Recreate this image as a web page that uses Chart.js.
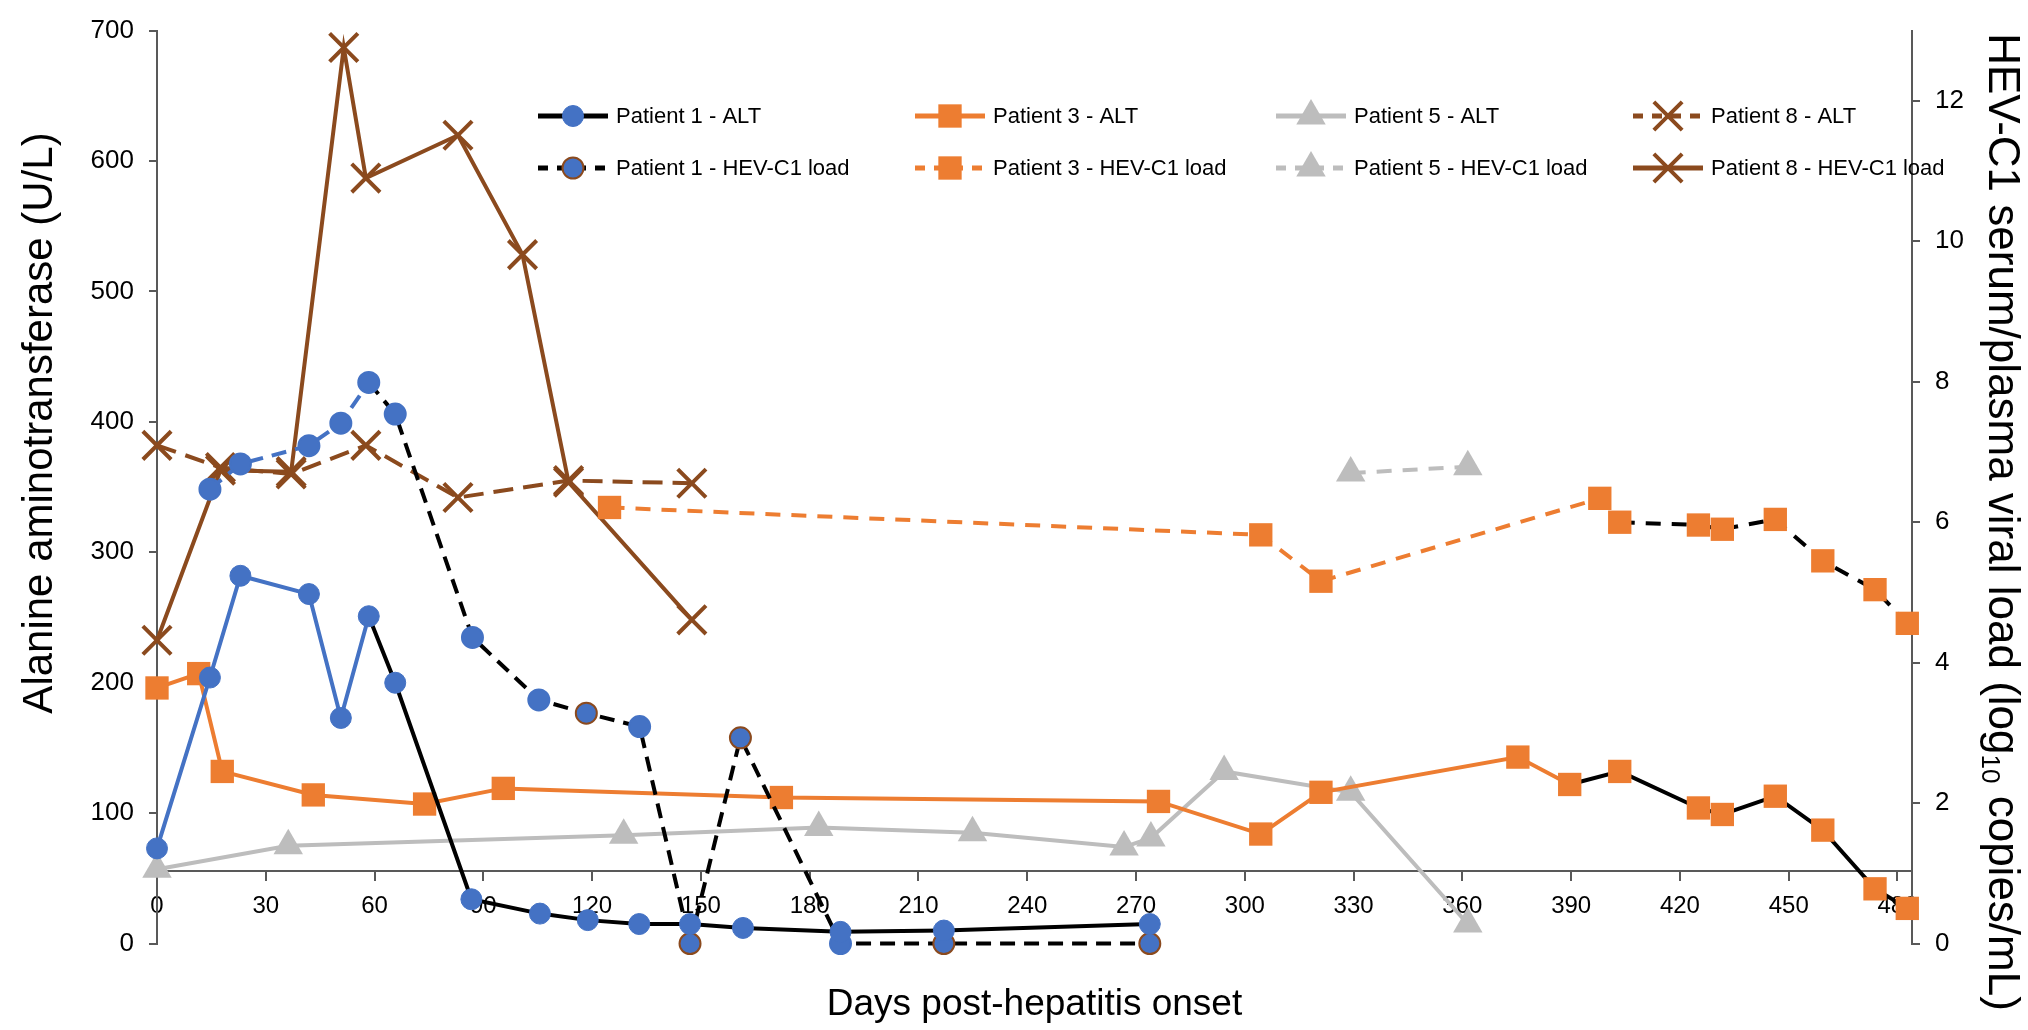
<!DOCTYPE html>
<html>
<head>
<meta charset="utf-8">
<title>ALT and HEV-C1 load after hepatitis onset</title>
<script src="https://cdn.jsdelivr.net/npm/chart.js@4.4.1/dist/chart.umd.min.js"></script>
<style>
  html, body { margin: 0; padding: 0; background: #fff; }
  #wrap { width: 2028px; height: 1030px; }
</style>
</head>
<body>
<div id="wrap"><canvas id="hevChart" width="2028" height="1030"></canvas></div>
<script>
// values: days post onset, ALT in U/L (left axis), load in log10 copies/mL (right axis)
const p1AltDays  = [0, 14.6, 23, 41.9, 50.7, 58.4, 65.7, 86.7, 105.6, 118.8, 133, 147, 161.6, 188.5, 217, 273.8];
const p1Alt      = [73, 204, 282, 268, 173, 251, 200, 34, 23, 18, 15, 15, 12, 9, 10, 15];
const p1LoadDays = [14.6, 23, 41.9, 50.7, 58.4, 65.7, 87, 105.3, 118.4, 133.1, 147, 160.9, 188.5, 217, 273.8];
const p1Load     = [6.47, 6.83, 7.09, 7.41, 7.99, 7.54, 4.36, 3.47, 3.28, 3.09, 0, 2.93, 0, 0, 0];

const p3AltDays  = [0, 11.5, 18, 43.1, 73.8, 95.5, 172.2, 276.2, 304.4, 321, 375.3, 389.6, 403.4, 425.1, 431.7, 446.3, 459.4, 473.8, 482.7];
const p3Alt      = [196, 207, 132, 114, 107, 119, 112, 109, 84, 116, 143, 122, 132, 104, 99, 113, 87, 42, 27];
const p3LoadDays = [124.8, 304.4, 321, 397.9, 403.4, 425.1, 431.7, 446.3, 459.4, 473.8, 482.7];
const p3Load     = [6.21, 5.82, 5.16, 6.34, 6.0, 5.96, 5.9, 6.04, 5.45, 5.04, 4.56];

const p5AltDays  = [0, 36.2, 128.7, 182.5, 224.9, 266.7, 274.1, 294.3, 329.2, 361.5];
const p5Alt      = [57, 75, 83, 89, 85, 74, 81, 132, 116, 15];
const p5LoadDays = [329.2, 361.5];
const p5Load     = [6.70, 6.79];

const p8AltDays  = [0, 17.5, 37, 57.6, 83, 113.5, 147.5];
const p8Alt      = [382, 365, 360, 382, 342, 355, 353];
const p8LoadDays = [0, 17.5, 37, 51.5, 57.6, 83, 100.8, 113.5, 147.5];
const p8Load     = [4.32, 6.74, 6.72, 12.76, 10.90, 11.51, 9.81, 6.57, 4.61];

const BLUE = '#4472C4', BLACK = '#000000', ORANGE = '#ED7D31', GRAY = '#BDBDBD', BROWN = '#8B4A1E';
const AXIS = '#595959';
const FONT = "'Liberation Sans', Arial, sans-serif";

function pts(days, vals) {
  return days.map((d, i) => ({ x: d, y: vals[i] }));
}

// which Patient 1 load markers have the brown rim in the figure
const rimmed = [8, 10, 11, 13, 14];

const datasets = [
  {
    label: 'Patient 1 - ALT', col: 0, row: 0, yAxisID: 'y',
    data: pts(p1AltDays, p1Alt),
    borderColor: BLACK, borderWidth: 4,
    segment: { borderColor: c => c.p0DataIndex < 5 ? BLUE : BLACK },
    pointStyle: 'circle', pointRadius: 10.5,
    pointBackgroundColor: BLUE, pointBorderColor: BLUE, pointBorderWidth: 1
  },
  {
    label: 'Patient 1 - HEV-C1 load', col: 0, row: 1, yAxisID: 'y2',
    data: pts(p1LoadDays, p1Load),
    borderColor: BLACK, borderWidth: 4, borderDash: [15, 9],
    segment: { borderColor: c => c.p0DataIndex < 4 ? BLUE : BLACK },
    pointStyle: 'circle', pointRadius: 10.5,
    pointBackgroundColor: BLUE,
    pointBorderColor: p1LoadDays.map((d, i) => rimmed.includes(i) ? BROWN : BLUE),
    pointBorderWidth: 2
  },
  {
    label: 'Patient 3 - ALT', col: 1, row: 0, yAxisID: 'y',
    data: pts(p3AltDays, p3Alt),
    borderColor: ORANGE, borderWidth: 4,
    segment: { borderColor: c => c.p0DataIndex >= 11 ? BLACK : ORANGE },
    pointStyle: 'rect', pointRadius: 16.5,
    pointBackgroundColor: ORANGE, pointBorderColor: ORANGE, pointBorderWidth: 0
  },
  {
    label: 'Patient 3 - HEV-C1 load', col: 1, row: 1, yAxisID: 'y2',
    data: pts(p3LoadDays, p3Load),
    borderColor: ORANGE, borderWidth: 4, borderDash: [15, 11],
    segment: { borderColor: c => c.p0DataIndex >= 4 ? BLACK : ORANGE },
    pointStyle: 'rect', pointRadius: 16.5,
    pointBackgroundColor: ORANGE, pointBorderColor: ORANGE, pointBorderWidth: 0
  },
  {
    label: 'Patient 5 - ALT', col: 2, row: 0, yAxisID: 'y',
    data: pts(p5AltDays, p5Alt),
    borderColor: GRAY, borderWidth: 4,
    pointStyle: 'triangle', pointRadius: 17,
    pointBackgroundColor: GRAY, pointBorderColor: GRAY, pointBorderWidth: 0
  },
  {
    label: 'Patient 5 - HEV-C1 load', col: 2, row: 1, yAxisID: 'y2',
    data: pts(p5LoadDays, p5Load),
    borderColor: GRAY, borderWidth: 4, borderDash: [15, 11],
    pointStyle: 'triangle', pointRadius: 17,
    pointBackgroundColor: GRAY, pointBorderColor: GRAY, pointBorderWidth: 0
  },
  {
    label: 'Patient 8 - ALT', col: 3, row: 0, yAxisID: 'y',
    data: pts(p8AltDays, p8Alt),
    borderColor: BROWN, borderWidth: 4, borderDash: [20, 10],
    pointStyle: 'crossRot', pointRadius: 20,
    pointBackgroundColor: BROWN, pointBorderColor: BROWN, pointBorderWidth: 4
  },
  {
    label: 'Patient 8 - HEV-C1 load', col: 3, row: 1, yAxisID: 'y2',
    data: pts(p8LoadDays, p8Load),
    borderColor: BROWN, borderWidth: 4,
    pointStyle: 'crossRot', pointRadius: 20,
    pointBackgroundColor: BROWN, pointBorderColor: BROWN, pointBorderWidth: 4
  }
];
datasets.forEach(ds => { ds.clip = false; ds.tension = 0; ds.fill = false; ds.borderCapStyle = 'butt'; });

function marker(ctx, style, x, y, r) {
  ctx.beginPath();
  if (style === 'circle') {
    ctx.arc(x, y, r, 0, Math.PI * 2);
    ctx.fill(); ctx.stroke();
  } else if (style === 'rect') {
    const s = r * Math.SQRT1_2;
    ctx.rect(x - s, y - s, 2 * s, 2 * s);
    ctx.fill();
  } else if (style === 'triangle') {
    ctx.moveTo(x, y - r);
    ctx.lineTo(x + r * 0.866, y + r / 2);
    ctx.lineTo(x - r * 0.866, y + r / 2);
    ctx.closePath();
    ctx.fill();
  } else if (style === 'crossRot') {
    const s = r * Math.SQRT1_2;
    ctx.moveTo(x - s, y - s); ctx.lineTo(x + s, y + s);
    ctx.moveTo(x - s, y + s); ctx.lineTo(x + s, y - s);
    ctx.stroke();
  }
}

// legend laid out as in the figure: one column per patient, ALT on top, load below
const gridLegend = {
  id: 'gridLegend',
  afterDraw(chart) {
    const ctx = chart.ctx;
    const textX = [616, 993, 1354, 1711];
    const rowY = [116, 168];
    ctx.save();
    chart.data.datasets.forEach(ds => {
      const tx = textX[ds.col], y = rowY[ds.row];
      ctx.strokeStyle = ds.borderColor;
      ctx.lineWidth = 5;
      ctx.lineCap = 'butt';
      ctx.setLineDash(ds.borderDash ? [10, 9] : []);
      ctx.beginPath();
      ctx.moveTo(tx - 78, y);
      ctx.lineTo(tx - 8, y);
      ctx.stroke();
      ctx.setLineDash([]);
      const pbc = Array.isArray(ds.pointBorderColor) ? BROWN : ds.pointBorderColor;
      ctx.fillStyle = ds.pointBackgroundColor;
      ctx.strokeStyle = pbc;
      ctx.lineWidth = ds.pointBorderWidth || 1;
      marker(ctx, ds.pointStyle, tx - 43, y, ds.pointRadius);
      ctx.fillStyle = '#000';
      ctx.font = '22px ' + FONT;
      ctx.textAlign = 'left';
      ctx.textBaseline = 'middle';
      ctx.fillText(ds.label, tx, y + 1);
    });
    ctx.restore();
  }
};

// the two vertical axis titles, placed where the figure has them
const sideTitles = {
  id: 'sideTitles',
  afterDraw(chart) {
    const ctx = chart.ctx;
    ctx.save();
    ctx.fillStyle = '#000';
    ctx.textBaseline = 'middle';
    ctx.textAlign = 'center';
    ctx.font = '42px ' + FONT;
    ctx.translate(40, 423);
    ctx.rotate(-Math.PI / 2);
    ctx.fillText('Alanine aminotransferase (U/L)', 0, 0);
    ctx.restore();

    ctx.save();
    ctx.fillStyle = '#000';
    ctx.textBaseline = 'middle';
    ctx.textAlign = 'left';
    const a = 'HEV-C1 serum/plasma viral load (log', b = '10', c = ' copies/mL)';
    const big = '44px ' + FONT, small = '26px ' + FONT;
    ctx.font = big;
    const wa = ctx.measureText(a).width, wc = ctx.measureText(c).width;
    ctx.font = small;
    const wb = ctx.measureText(b).width;
    const total = wa + wb + wc;
    ctx.translate(2001, 522);
    ctx.rotate(Math.PI / 2);
    const x0 = -total / 2;
    ctx.font = big;
    ctx.fillText(a, x0, 0);
    ctx.font = small;
    ctx.fillText(b, x0 + wa, 12);
    ctx.font = big;
    ctx.fillText(c, x0 + wa + wb, 0);
    ctx.restore();
  }
};

const config = {
  type: 'line',
  data: { datasets: datasets },
  options: {
    responsive: false,
    animation: false,
    devicePixelRatio: 1,
    events: [],
    layout: { padding: { top: 20, left: 0, right: 0, bottom: 0 } },
    scales: {
      x: {
        type: 'linear',
        min: 0,
        max: 484,
        position: { y: 55.7 },
        ticks: {
          stepSize: 30, includeBounds: false, autoSkip: false, maxRotation: 0,
          color: '#000', font: { family: FONT, size: 24 }, padding: 12
        },
        grid: { drawOnChartArea: false, tickLength: 9, color: AXIS, lineWidth: 2 },
        border: { color: AXIS, width: 2 }
      },
      y: {
        position: 'left',
        min: 0,
        max: 700,
        ticks: {
          stepSize: 100, color: '#000', font: { family: FONT, size: 26 }, padding: 15
        },
        grid: { drawOnChartArea: false, tickLength: 8, color: AXIS, lineWidth: 2 },
        border: { color: AXIS, width: 2 },
        afterFit: s => { s.width = 157; }
      },
      y2: {
        position: 'right',
        min: 0,
        max: 13,
        ticks: {
          stepSize: 2, includeBounds: false, color: '#000', font: { family: FONT, size: 26 }, padding: 15
        },
        grid: { drawOnChartArea: false, tickLength: 8, color: AXIS, lineWidth: 2 },
        border: { color: AXIS, width: 2 },
        afterFit: s => { s.width = 116; }
      }
    },
    plugins: {
      legend: { display: false },
      tooltip: { enabled: false },
      title: {
        display: true,
        position: 'bottom',
        fullSize: false,
        text: 'Days post-hepatitis onset',
        color: '#000',
        font: { family: FONT, size: 37, weight: 'normal' },
        padding: { top: 39, bottom: 3 }
      }
    }
  },
  plugins: [gridLegend, sideTitles]
};

new Chart(document.getElementById('hevChart').getContext('2d'), config);
</script>
</body>
</html>
